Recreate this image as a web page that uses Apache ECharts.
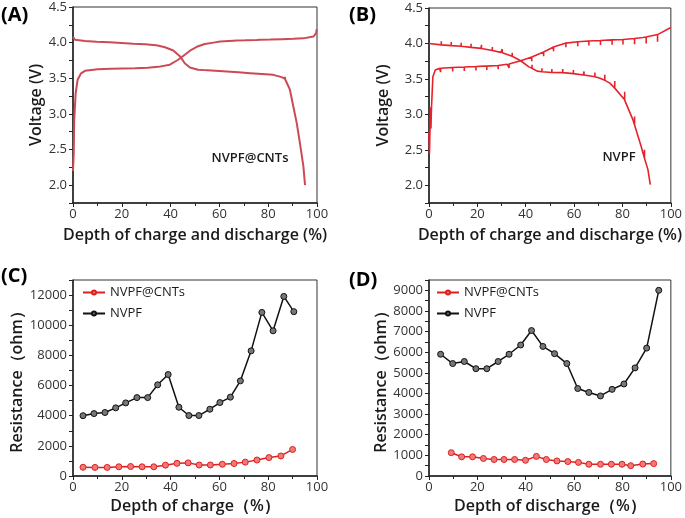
<!DOCTYPE html>
<html>
<head>
<meta charset="utf-8">
<script src="https://cdn.jsdelivr.net/npm/echarts@6/dist/echarts.min.js"></script>
<style>
html,body{margin:0;padding:0;background:#fff;}
#chart{width:685px;height:518px;}
</style>
</head>
<body>
<div id="chart"></div>
<script>
// ---------- Panel A (NVPF@CNTs GITT) ----------
const aCharge = [[0,2.2],[0.3,2.45],[0.5,2.92],[1.1,3.29],[1.9,3.48],[3.3,3.57],[5.6,3.61],[10.4,3.628],[15.8,3.632],[25.4,3.64],[34.9,3.66],[39.7,3.69],[43.1,3.76],[45.8,3.83],[48.5,3.9],[51.3,3.95],[54,3.98],[57.6,4.0],[67.1,4.03],[76.7,4.04],[86.2,4.05],[94.4,4.06],[98.5,4.085],[99.6,4.13],[99.9,4.19]];
// [x, voltage on curve, relaxation length]
const aChargeTicks = [[4.9,3.605,0.025],[10.1,3.628,0.025],[15.6,3.632,0.025],[20.6,3.636,0.025],[25.4,3.64,0.025],[30.6,3.648,0.025],[35.7,3.662,0.025],[40.5,3.70,0.025],[60.3,4.015,0.025],[65.7,4.027,0.025],[70.5,4.033,0.025],[75.3,4.038,0.025],[80.8,4.043,0.025],[85.6,4.049,0.025],[90.3,4.053,0.025],[95.1,4.062,0.025]];
const aDischarge = [[0,4.08],[0.8,4.04],[4.9,4.024],[9.7,4.014],[14.9,4.005],[19.9,3.996],[24.7,3.986],[29.5,3.978],[34.2,3.964],[37.7,3.935],[41.1,3.89],[43.8,3.81],[45.8,3.71],[47.9,3.65],[51.3,3.62],[53.5,3.615],[63,3.595],[72.6,3.572],[82.1,3.548],[85.5,3.516],[87.6,3.47],[88.9,3.34],[90.3,3.105],[91.7,2.87],[93.0,2.59],[94.4,2.27],[95.1,2.0]];
const aDischargeTicks = [[4.9,4.024,0.025],[9.7,4.014,0.025],[14.9,4.005,0.025],[19.9,3.996,0.025],[24.7,3.986,0.025],[29.5,3.978,0.025],[34.2,3.964,0.025],[53.5,3.615,0.025],[58.3,3.605,0.025],[63,3.595,0.025],[67.8,3.584,0.025],[72.6,3.572,0.025],[77.4,3.56,0.025],[82.1,3.548,0.025],[86.9,3.49,0.03]];

// ---------- Panel B (NVPF GITT) ----------
const bCharge = [[0,2.75],[0.2,2.45],[0.4,2.43],[0.6,3.1],[0.8,2.8],[1.0,3.07],[1.6,3.53],[2.6,3.625],[4.4,3.65],[11.9,3.664],[22.8,3.68],[32.4,3.706],[37.9,3.756],[43.3,3.82],[47.4,3.88],[51.5,3.95],[57.0,4.01],[66.6,4.036],[80.2,4.056],[88.4,4.084],[95.2,4.13],[100,4.224]];
const bChargeTicks = [[4.8,3.65,0.055],[9.8,3.66,0.055],[14.6,3.667,0.055],[19.4,3.674,0.055],[23.9,3.68,0.055],[28.6,3.69,0.055],[33.1,3.71,0.055],[42.5,3.81,0.06],[47.4,3.88,0.06],[51.5,3.95,0.06],[56.6,4.005,0.06],[61.5,4.025,0.065],[66.1,4.035,0.065],[70.9,4.042,0.065],[75.7,4.05,0.07],[80.2,4.056,0.07],[85.0,4.07,0.08],[89.8,4.09,0.09],[94.5,4.125,0.1]];
const bDischarge = [[0,4.0],[5.1,3.98],[13.3,3.96],[21.5,3.93],[29.7,3.874],[34.4,3.82],[37.9,3.756],[41.3,3.67],[44.7,3.61],[47.4,3.6],[51.5,3.59],[55.6,3.588],[63.8,3.556],[70.7,3.51],[74.8,3.44],[77.5,3.345],[80.9,3.205],[84.3,2.925],[87.7,2.55],[90.5,2.224],[91.5,2.01]];
const bDischargeTicks = [[5.1,3.98,0.05],[9.2,3.97,0.05],[13.3,3.96,0.05],[17.4,3.945,0.05],[21.7,3.93,0.05],[26.2,3.9,0.05],[30.3,3.87,0.05],[34.4,3.82,0.05],[42.6,3.65,0.05],[46.7,3.6,0.05],[50.8,3.59,0.05],[55.3,3.588,0.05],[59.7,3.575,0.05],[64.1,3.555,0.05],[68.6,3.53,0.06],[72.7,3.48,0.08],[76.8,3.37,0.1],[80.9,3.2,0.12],[85.0,2.85,0.12],[89.1,2.38,0.12]];

// ---------- Panel C (depth of charge) ----------
const cNvpfX = [4.1,8.6,13.1,17.5,21.6,26.2,30.6,34.7,39.0,43.4,47.5,51.6,56.1,60.2,64.5,68.6,73.0,77.4,82.0,86.4,90.5];
const cNvpfY = [4000,4140,4210,4520,4850,5200,5200,6050,6730,4560,4010,4010,4430,4870,5230,6310,8300,10850,9630,11910,10900];
const cCntX = [4.1,9.0,14.0,18.8,23.6,28.3,33.1,37.9,42.6,47.2,51.7,56.3,61.2,66.0,70.6,75.4,80.3,85.2,90.0];
const cCntY = [580,570,570,610,630,610,610,720,840,870,730,730,780,830,920,1060,1220,1330,1760];

// ---------- Panel D (depth of discharge) ----------
const dNvpfX = [4.8,9.8,14.6,19.4,23.9,28.6,33.1,37.9,42.4,47.1,51.9,57.0,61.5,66.1,70.9,75.7,80.6,85.2,90.0,95.0];
const dNvpfY = [5900,5450,5550,5200,5200,5550,5900,6350,7050,6280,5930,5450,4240,4050,3880,4200,4460,5240,6200,9000];
const dCntX = [9.2,13.5,18.0,22.5,26.9,31.0,35.4,39.9,44.4,48.5,52.9,57.4,61.8,66.1,70.9,75.4,79.8,83.4,88.4,92.9];
const dCntY = [1130,930,930,850,800,800,800,760,950,800,730,700,660,570,570,570,570,500,580,600];

const seriesNames = ['NVPF@CNTs','NVPF'];

// ---------- build ----------
function withTicks(curve, ticks, dir){
  const items = curve.map(p => ({x:p[0], pts:[[p[0],p[1]]]}));
  ticks.forEach(t => items.push({x:t[0], pts:[[t[0],t[1]],[t[0],t[1]+dir*t[2]],[t[0],t[1]]]}));
  items.sort((a,b)=>a.x-b.x);
  return items.flatMap(o=>o.pts);
}
function zip(xs, ys){ return xs.map((x,i)=>[x, ys[i]]); }

const FONT = '"Open Sans", "DejaVu Sans", sans-serif';
const TXT = '#1a1a1a';
const grids = [
  {left:73, top:7, width:244, height:196},
  {left:429, top:8, width:244, height:195},
  {left:73, top:280, width:244, height:196},
  {left:429, top:280, width:244, height:196}
];
grids.forEach(g => { g.show = true; g.borderColor = '#333'; g.borderWidth = 1; g.containLabel = false; });

function xAx(gi, name, gap){
  return {
    type:'value', gridIndex:gi, min:0, max:100, interval:20,
    name:name, nameLocation:'middle', nameGap:gap,
    nameTextStyle:{fontFamily:FONT, fontSize:16, fontWeight:600, color:TXT},
    axisLine:{show:true, onZero:false, lineStyle:{color:'#222', width:1.5}},
    axisTick:{show:true, inside:false, length:4, lineStyle:{color:'#222', width:1}},
    minorTick:{show:true, splitNumber:2, length:3, lineStyle:{color:'#222', width:1}},
    axisLabel:{fontFamily:FONT, fontSize:13, color:'#333', margin:5},
    splitLine:{show:false}
  };
}
function yAx(gi, name, gap, min, max, step, labelEvery, fmt){
  return {
    type:'value', gridIndex:gi, min:min, max:max, interval:step,
    name:name, nameLocation:'middle', nameGap:gap, nameRotate:90,
    nameTextStyle:{fontFamily:FONT, fontSize:16, fontWeight:600, color:TXT},
    axisLine:{show:true, onZero:false, lineStyle:{color:'#222', width:1.5}},
    axisTick:{show:true, inside:false, length:4, lineStyle:{color:'#222', width:1}},
    axisLabel:{fontFamily:FONT, fontSize:13, color:'#333', margin:6, showMaxLabel:true, showMinLabel:true,
      formatter: v => {
        const k = Math.round(v/labelEvery*1000)/1000;
        return Number.isInteger(k) && v <= max ? fmt(v) : '';
      }},
    splitLine:{show:false}
  };
}
function legendAt(left, top){
  return {data:seriesNames.map(n=>({name:n})), orient:'vertical', left:left, top:top, itemWidth:22, itemHeight:5, itemGap:8,
    textStyle:{fontFamily:FONT, fontSize:13, color:TXT}, padding:0, selectedMode:false};
}

const redA = '#cc4a55', redB = '#e6222b';
const redM = {color:'#f07a7a', borderColor:'#e01f1f', borderWidth:1};
const blkM = {color:'#777', borderColor:'#111', borderWidth:1};
const option = {
  animation:false,
  backgroundColor:'#fff',
  grid: grids,
  xAxis: [
    xAx(0,'Depth of charge and discharge (%)',24),
    xAx(1,'Depth of charge and discharge (%)',24),
    xAx(2,'Depth of charge（%）',22),
    xAx(3,'Depth of discharge（%）',22)
  ],
  yAxis: [
    yAx(0,'Voltage (V)',28,1.75,4.5,0.25,0.5,v=>v.toFixed(1)),
    yAx(1,'Voltage (V)',38,1.75,4.5,0.25,0.5,v=>v.toFixed(1)),
    yAx(2,'Resistance（ohm）',44,0,13000,1000,2000,v=>String(v)),
    yAx(3,'Resistance（ohm）',40,0,9500,500,1000,v=>String(v))
  ],
  legend: [legendAt(82, 286), legendAt(436, 286)],
  graphic: [
    {type:'text', left:1, top:5, style:{text:'(A)', font:'bold 20px '+FONT, fill:'#000'}},
    {type:'text', left:349, top:5, style:{text:'(B)', font:'bold 20px '+FONT, fill:'#000'}},
    {type:'text', left:1, top:266, style:{text:'(C)', font:'bold 20px '+FONT, fill:'#000'}},
    {type:'text', left:349, top:270, style:{text:'(D)', font:'bold 20px '+FONT, fill:'#000'}},
    {type:'text', x:250, y:158, style:{text:'NVPF@CNTs', font:'600 13px '+FONT, fill:TXT, align:'center', verticalAlign:'middle'}},
    {type:'text', x:619, y:157, style:{text:'NVPF', font:'600 13px '+FONT, fill:TXT, align:'center', verticalAlign:'middle'}}
  ],
  series: [
    {type:'line', xAxisIndex:0, yAxisIndex:0, data:withTicks(aCharge, aChargeTicks, -1), showSymbol:false, lineStyle:{color:redA, width:2}, z:3},
    {type:'line', xAxisIndex:0, yAxisIndex:0, data:withTicks(aDischarge, aDischargeTicks, 1), showSymbol:false, lineStyle:{color:redA, width:2}, z:3},
    {type:'line', xAxisIndex:1, yAxisIndex:1, data:withTicks(bCharge, bChargeTicks, -1), showSymbol:false, lineStyle:{color:redB, width:1.6}, z:3},
    {type:'line', xAxisIndex:1, yAxisIndex:1, data:withTicks(bDischarge, bDischargeTicks, 1), showSymbol:false, lineStyle:{color:redB, width:1.6}, z:3},
    {name:seriesNames[0], type:'line', xAxisIndex:2, yAxisIndex:2, data:zip(cCntX,cCntY), symbol:'circle', symbolSize:6,
      lineStyle:{color:'#e01f1f', width:1.5}, itemStyle:redM},
    {name:seriesNames[1], type:'line', xAxisIndex:2, yAxisIndex:2, data:zip(cNvpfX,cNvpfY), symbol:'circle', symbolSize:6,
      lineStyle:{color:'#111', width:1.5}, itemStyle:blkM},
    {name:seriesNames[0], type:'line', xAxisIndex:3, yAxisIndex:3, data:zip(dCntX,dCntY), symbol:'circle', symbolSize:6,
      lineStyle:{color:'#e01f1f', width:1.5}, itemStyle:redM},
    {name:seriesNames[1], type:'line', xAxisIndex:3, yAxisIndex:3, data:zip(dNvpfX,dNvpfY), symbol:'circle', symbolSize:6,
      lineStyle:{color:'#111', width:1.5}, itemStyle:blkM}
  ]
};
const chart = echarts.init(document.getElementById('chart'), null, {renderer:'canvas'});
chart.setOption(option);
</script>
</body>
</html>
